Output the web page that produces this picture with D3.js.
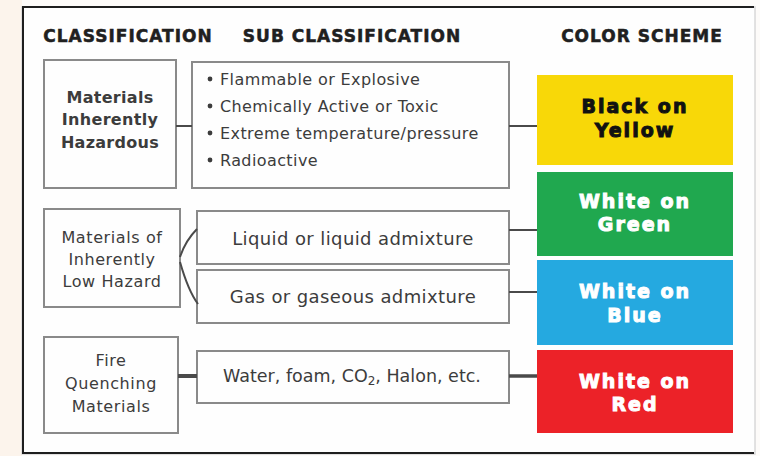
<!DOCTYPE html>
<meta charset="utf-8">
<script src="https://d3js.org/d3.v7.min.js"></script>
<style>
  body { margin: 0; background: #fcf4ec; }
  svg { display: block; }
</style>
<div id="chart"></div>
<script>

// column headers
var headers = ["CLASSIFICATION", "SUB CLASSIFICATION", "COLOR SCHEME"];

// classification boxes (one entry per box, one string per line)
var classLines = [
  ["Materials", "Inherently", "Hazardous"],
  ["Materials of", "Inherently", "Low Hazard"],
  ["Fire", "Quenching", "Materials"]
];

// sub classifications
var bulletItems = ["Flammable or Explosive", "Chemically Active or Toxic",
                   "Extreme temperature/pressure", "Radioactive"];
var subItems = ["Liquid or liquid admixture", "Gas or gaseous admixture"];
var quenchItem = ["Water, foam, CO", "2", ", Halon, etc."];

// color scheme
var schemeLines = [["Black on", "Yellow"], ["White on", "Green"],
                   ["White on", "Blue"], ["White on", "Red"]];
var schemeNames = ["yellow", "green", "blue", "red"];
var schemeFill = ["#f8d808", "#20a84f", "#25a9e0", "#ec2228"];
var schemeInk = ["#111111", "#ffffff", "#ffffff", "#ffffff"];

var W = 760, H = 456;
var fill = d3.scaleOrdinal(schemeNames, schemeFill);
var ink = d3.scaleOrdinal(schemeNames, schemeInk);

var svg = d3.select("#chart").append("svg")
  .attr("width", W).attr("height", H);

// frame: dark on left, top and bottom, faint on the right
svg.append("rect")
  .attr("x", 22).attr("y", 0).attr("width", W - 22).attr("height", H)
  .attr("fill", "#fdfbf9");
svg.append("rect")
  .attr("x", 22).attr("y", 7).attr("width", 733).attr("height", 447)
  .attr("fill", "#fefefe").attr("stroke", "#d8d8d8").attr("stroke-width", 1.5);
svg.append("path")
  .attr("d", "M754,7 H23 V453 H754")
  .attr("fill", "none").attr("stroke", "#1e1e1e").attr("stroke-width", 2);

var textCol = "#3c3c3c";
var boxStroke = "#8a8a8a";

// headers
var headX = [128, 352, 642];
svg.selectAll(".head").data(headers).enter().append("text")
  .attr("x", (d, i) => headX[i]).attr("y", 36)
  .attr("text-anchor", "middle").attr("dominant-baseline", "central")
  .style("font-family", "DejaVu Sans").style("font-weight", "bold")
  .style("font-size", "17px").style("letter-spacing", "1px")
  .style("fill", "#202020").style("stroke", "#202020").style("stroke-width", 0.5)
  .text(d => d);

// classification boxes
var classBox = [
  {x: 44, y: 60, w: 132, h: 128, bold: true, ys: [97, 119, 142]},
  {x: 44, y: 209, w: 136, h: 98, bold: false, ys: [237, 259, 281]},
  {x: 44, y: 337, w: 134, h: 96, bold: false, ys: [360, 383, 406]}
];
classBox.forEach(function (b, i) {
  svg.append("rect").attr("x", b.x).attr("y", b.y).attr("width", b.w).attr("height", b.h)
    .attr("fill", "#fefefe").attr("stroke", boxStroke).attr("stroke-width", 2);
  svg.append("g").selectAll("text").data(classLines[i]).enter().append("text")
    .attr("x", b.x + b.w / 2).attr("y", (d, j) => b.ys[j])
    .attr("text-anchor", "middle").attr("dominant-baseline", "central")
    .style("font-family", "DejaVu Sans").style("font-weight", b.bold ? "bold" : "normal")
    .style("font-size", "16px").style("letter-spacing", b.bold ? "0.3px" : "0.6px")
    .style("fill", textCol)
    .text(d => d);
});

// sub classification boxes
var subBox = [
  {x: 192, y: 62, w: 317, h: 126},
  {x: 197, y: 211, w: 312, h: 53},
  {x: 197, y: 270, w: 312, h: 53},
  {x: 197, y: 351, w: 312, h: 52}
];
svg.selectAll(".sub").data(subBox).enter().append("rect")
  .attr("x", d => d.x).attr("y", d => d.y).attr("width", d => d.w).attr("height", d => d.h)
  .attr("fill", "#fefefe").attr("stroke", boxStroke).attr("stroke-width", 2);

var bulletY = [79, 106, 133, 160];
var bl = svg.append("g").selectAll("g").data(bulletItems).enter().append("g");
bl.append("circle").attr("cx", 210).attr("cy", (d, i) => bulletY[i]).attr("r", 2.4)
  .attr("fill", textCol);
bl.append("text").attr("x", 220).attr("y", (d, i) => bulletY[i])
  .attr("dominant-baseline", "central")
  .style("font-family", "DejaVu Sans").style("font-size", "16px").style("letter-spacing", "0.4px")
  .style("fill", textCol)
  .text(d => d);

svg.append("g").selectAll("text").data(subItems).enter().append("text")
  .attr("x", 353).attr("y", (d, i) => [238, 296][i])
  .attr("text-anchor", "middle").attr("dominant-baseline", "central")
  .style("font-family", "DejaVu Sans").style("font-size", "18px").style("letter-spacing", "0.4px")
  .style("fill", textCol)
  .text(d => d);

var q = svg.append("text").attr("x", 352).attr("y", 376)
  .attr("text-anchor", "middle").attr("dominant-baseline", "central")
  .style("font-family", "DejaVu Sans").style("font-size", "17.5px").style("fill", textCol);
q.append("tspan").text(quenchItem[0]);
q.append("tspan").attr("dy", 5).style("font-size", "12px").text(quenchItem[1]);
q.append("tspan").attr("dy", -5).text(quenchItem[2]);

// color scheme boxes
var schemeBox = [
  {y: 75, h: 90, ys: [106, 130]},
  {y: 172, h: 84, ys: [201, 224]},
  {y: 260, h: 85, ys: [291, 315]},
  {y: 350, h: 83, ys: [381, 404]}
];
schemeBox.forEach(function (b, i) {
  var name = schemeNames[i];
  svg.append("rect").attr("x", 537).attr("y", b.y).attr("width", 196).attr("height", b.h)
    .attr("fill", fill(name));
  svg.append("g").selectAll("text").data(schemeLines[i]).enter().append("text")
    .attr("x", 635).attr("y", (d, j) => b.ys[j])
    .attr("text-anchor", "middle").attr("dominant-baseline", "central")
    .style("font-family", "DejaVu Sans").style("font-weight", "bold")
    .style("font-size", "19px").style("letter-spacing", "2px")
    .style("fill", ink(name)).style("stroke", ink(name)).style("stroke-width", 1)
    .text(d => d);
});

// connectors
var links = [
  {x1: 176, x2: 192, y: 126, w: 2},
  {x1: 509, x2: 537, y: 126, w: 2},
  {x1: 509, x2: 537, y: 230, w: 2},
  {x1: 509, x2: 537, y: 292, w: 2},
  {x1: 178, x2: 197, y: 376, w: 4},
  {x1: 509, x2: 537, y: 376, w: 3.5}
];
svg.append("g").selectAll("line").data(links).enter().append("line")
  .attr("x1", d => d.x1).attr("x2", d => d.x2).attr("y1", d => d.y).attr("y2", d => d.y)
  .attr("stroke", "#4a4a4a").attr("stroke-width", d => d.w);

// brace from the low hazard box to its two sub boxes
svg.append("path")
  .attr("d", "M197,229 C189,237 183,248 180,257 M180,262 C184,276 189,292 198,304")
  .attr("fill", "none").attr("stroke", "#4a4a4a").attr("stroke-width", 2);

</script>
